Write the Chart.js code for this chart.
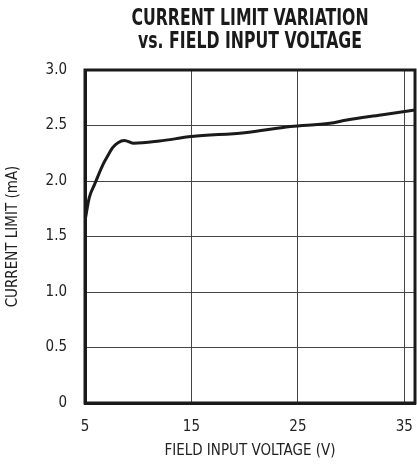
<!DOCTYPE html>
<html lang="en">
<head>
  <meta charset="UTF-8" />
  <title>Current Limit Variation vs. Field Input Voltage</title>
  <script src="https://cdn.jsdelivr.net/npm/chart.js"></script>
  <style>
    html, body { margin: 0; padding: 0; background: #fff; }
    #chartContainer { width: 417px; height: 464px; }
  </style>
</head>
<body>

  <div id="chartContainer">
    <canvas id="limitChart"></canvas>
  </div>

  <script>
    const titleLines = ['CURRENT LIMIT VARIATION', 'vs. FIELD INPUT VOLTAGE'];
    const voltage = [5, 5.4, 5.9, 6.2, 6.7, 7.1, 7.6, 8.1, 8.7, 9.6, 12, 15, 20, 24.3, 28, 29.6, 32.8, 36];
    const currentMA = [1.64, 1.85, 1.97, 2.04, 2.15, 2.22, 2.30, 2.345, 2.365, 2.34, 2.36, 2.40, 2.435, 2.49, 2.52, 2.55, 2.595, 2.64];
    const xTicks = [5, 15, 25, 35];
    const yTicks = [0, 0.5, 1.0, 1.5, 2.0, 2.5, 3.0];

    const narrow = "'Liberation Sans Narrow', 'DejaVu Sans Condensed', Arial, sans-serif";

    // title is centred over the plot area, squeezed to the condensed look
    const plotTitle = {
      id: 'plotTitle',
      afterDraw(chart) {
        const c = chart.ctx;
        const mid = (chart.chartArea.left + chart.chartArea.right) / 2;
        c.save();
        c.fillStyle = '#1a1a1a';
        c.font = 'bold 23px ' + narrow;
        c.textAlign = 'center';
        c.textBaseline = 'middle';
        c.translate(mid, 0);
        c.scale(0.76, 1);
        c.fillText(titleLines[0], 0, 19);
        c.fillText(titleLines[1], 0, 42);
        c.restore();
      }
    };

    const points = voltage.map((v, i) => ({ x: v, y: currentMA[i] }));

    new Chart(document.getElementById('limitChart'), {
      type: 'line',
      data: {
        datasets: [{
          data: points,
          borderColor: '#1a1a1a',
          borderWidth: 3,
          pointRadius: 0,
          fill: false,
          cubicInterpolationMode: 'monotone'
        }]
      },
      options: {
        responsive: true,
        maintainAspectRatio: false,
        animation: false,
        layout: { padding: { top: 70, right: 2, left: 0, bottom: 0 } },
        plugins: {
          legend: { display: false },
          tooltip: { enabled: false }
        },
        scales: {
          x: {
            type: 'linear',
            min: 5,
            max: 36,
            afterBuildTicks: s => { s.ticks = xTicks.map(v => ({ value: v })); },
            afterFit: s => { s.height = 61; s.paddingLeft = 0; s.paddingRight = 0; },
            grid: { color: '#444', lineWidth: 1, drawTicks: false },
            border: { color: '#1a1a1a', width: 3 },
            ticks: {
              color: '#222',
              font: { family: narrow, size: 15 },
              padding: 15,
              maxRotation: 0
            },
            title: {
              display: true,
              text: 'FIELD INPUT VOLTAGE (V)',
              color: '#222',
              font: { family: narrow, size: 15 },
              padding: { top: 4, bottom: 4 }
            }
          },
          y: {
            min: 0,
            max: 3,
            afterBuildTicks: s => { s.ticks = yTicks.map(v => ({ value: v })); },
            afterFit: s => { s.width = 85; },
            grid: { color: '#444', lineWidth: 1, drawTicks: false },
            border: { color: '#1a1a1a', width: 3 },
            ticks: {
              color: '#222',
              font: { family: narrow, size: 15 },
              padding: 18,
              callback: v => (v === 0 ? '0' : v.toFixed(1))
            },
            title: {
              display: true,
              text: 'CURRENT LIMIT (mA)',
              color: '#222',
              font: { family: narrow, size: 15 },
              padding: { top: 4, bottom: 4 }
            }
          }
        }
      },
      plugins: [plotTitle, {
        // frame on top and right, matching the axis lines
        id: 'frame',
        afterDatasetsDraw(chart) {
          const a = chart.chartArea, c = chart.ctx;
          c.save();
          c.strokeStyle = '#1a1a1a';
          c.lineWidth = 3;
          c.strokeRect(a.left, a.top, a.right - a.left, a.bottom - a.top);
          c.restore();
        }
      }]
    });
  </script>

</body>
</html>
